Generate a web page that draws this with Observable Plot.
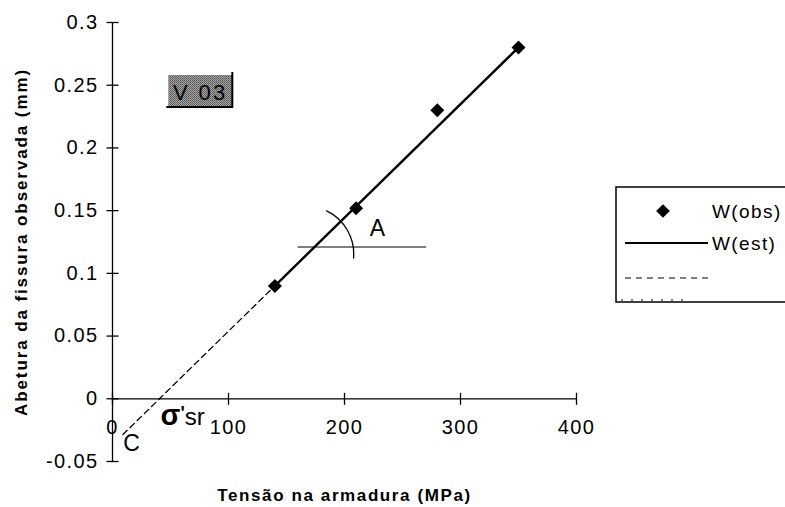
<!DOCTYPE html>
<html><head><meta charset="utf-8">
<script src="https://cdn.jsdelivr.net/npm/d3@7"></script>
<script src="https://cdn.jsdelivr.net/npm/@observablehq/plot@0.6"></script>
<style>
body{margin:0;background:#fff}
#chart svg{font-family:"Liberation Sans",Arial,sans-serif;letter-spacing:1.4px}
</style>
</head><body><div id="chart"></div>
<script>
// Observed crack width vs steel stress
const tensao = [140, 210, 280, 350];
const abertura = [0.09, 0.152, 0.23, 0.28];
// Estimated (fitted) line W(est)
const estX = [140, 350];
const estY = [0.0901, 0.2801];
// Dashed extrapolation towards C
const extX = [9, 140];
const extY = [-0.0285, 0.0901];
// Axis ticks
const xTicks = [0, 100, 200, 300, 400];
const yTicks = [-0.05, 0, 0.05, 0.1, 0.15, 0.2, 0.25, 0.3];
const yTickLabels = ["-0.05", "0", "0.05", "0.1", "0.15", "0.2", "0.25", "0.3"];
// Texts
const xTitle = "Tensão na armadura (MPa)";
const yTitle = "Abetura da fissura observada (mm)";
const legendLabels = ["W(obs)", "W(est)"];
const specimen = ["V 03"];
// Annotations (data units)
const labelA = [{t: "A", x: 229, y: 0.136}];
const labelC = [{t: "C", x: 17, y: -0.036}];
const sigmaParts = ["σ", "'", "sr"];
const labelSigma = [{t: sigmaParts.join(""), x: 60.5, y: -0.015}];
const angleLineX = [160, 270];
const angleLineY = [0.121, 0.121];
const angleCenter = [167, 0.115];
const specimenPos = [77, 0.245];

const obs = tensao.map((x, i) => ({x, y: abertura[i]}));
const est = estX.map((x, i) => ({x, y: estY[i]}));
const ext = extX.map((x, i) => ({x, y: extY[i]}));

const vTick = {draw(ctx) { ctx.moveTo(0, -6); ctx.lineTo(0, 6); }};
const hTick = {draw(ctx) { ctx.moveTo(-6, 0); ctx.lineTo(6, 0); }};

function decorations(index, scales) {
  const g = d3.create("svg:g").attr("text-anchor", "start");
  const X = scales.x, Y = scales.y;
  // angle arc
  const cx = X(angleCenter[0]), cy = Y(angleCenter[1]);
  const arc = d3.arc().innerRadius(48).outerRadius(48).startAngle(Math.PI * 0.14).endAngle(Math.PI * 0.53);
  g.append("path").attr("d", arc()).attr("transform", `translate(${cx},${cy})`)
    .attr("fill", "none").attr("stroke", "black").attr("stroke-width", 1.3);
  // specimen label box
  const bx = X(specimenPos[0]), by = Y(specimenPos[1]);
  const pat = g.append("defs").append("pattern").attr("id", "stip").attr("width", 2).attr("height", 2).attr("patternUnits", "userSpaceOnUse");
  pat.append("rect").attr("width", 2).attr("height", 2).attr("fill", "#a2a2a2");
  pat.append("rect").attr("width", 1).attr("height", 1).attr("fill", "#555");
  pat.append("rect").attr("x", 1).attr("y", 1).attr("width", 1).attr("height", 1).attr("fill", "#6a6a6a");
  g.append("rect").attr("x", bx - 33).attr("y", by - 16).attr("width", 64).attr("height", 32).attr("fill", "url(#stip)");
  g.append("path").attr("d", `M${bx - 35},${by + 16}H${bx + 31}V${by - 19}`)
    .attr("fill", "none").attr("stroke", "black").attr("stroke-width", 2);
  g.append("text").attr("x", bx - 1).attr("y", by + 1).attr("dy", "0.35em").attr("text-anchor", "middle")
    .attr("font-size", 22).style("letter-spacing", "2.4px").text(specimen[0]);
  // legend
  const L = g.append("g").attr("transform", "translate(616,187)");
  L.append("rect").attr("x", 0).attr("y", 0).attr("width", 200).attr("height", 115)
    .attr("fill", "white").attr("stroke", "black").attr("stroke-width", 1.5);
  L.append("path").attr("d", d3.symbol(d3.symbolDiamond2, 120)()).attr("transform", "translate(47,24)").attr("fill", "black");
  L.append("text").attr("x", 96).attr("y", 24).attr("dy", "0.35em").attr("font-size", 19).text(legendLabels[0]);
  L.append("line").attr("x1", 9).attr("x2", 92).attr("y1", 56).attr("y2", 56).attr("stroke", "black").attr("stroke-width", 2.2);
  L.append("text").attr("x", 96).attr("y", 56).attr("dy", "0.35em").attr("font-size", 19).text(legendLabels[1]);
  L.append("line").attr("x1", 9).attr("x2", 92).attr("y1", 91).attr("y2", 91).attr("stroke", "black").attr("stroke-width", 1).attr("stroke-dasharray", "6,5");
  L.append("line").attr("x1", 5).attr("x2", 70).attr("y1", 113).attr("y2", 113).attr("stroke", "black").attr("stroke-width", 1).attr("stroke-dasharray", "2,8");
  return g.node();
}

const chart = Plot.plot({
  width: 785,
  height: 507,
  marginLeft: 112,
  marginRight: 209,
  marginTop: 22,
  marginBottom: 46,
  x: {domain: [0, 400], axis: null},
  y: {domain: [-0.05, 0.3], axis: null},
  style: {background: "white", color: "black"},
  marks: [
    Plot.ruleY([0], {stroke: "black", strokeWidth: 1.3}),
    Plot.ruleX([0], {stroke: "black", strokeWidth: 1.3}),
    Plot.dot(xTicks, {x: d => d, y: 0, symbol: vTick, stroke: "black", strokeWidth: 1.3, r: 6}),
    Plot.dot(yTicks, {x: 0, y: d => d, symbol: hTick, stroke: "black", strokeWidth: 1.3, r: 6}),
    Plot.text(xTicks, {x: d => d, y: 0, dy: 29, text: d => String(d), fontSize: 20}),
    Plot.text(yTicks, {x: 0, y: d => d, dx: -14, text: (d, i) => yTickLabels[i], textAnchor: "end", fontSize: 20}),
    Plot.text([xTitle], {frameAnchor: "bottom", text: d => d, dy: 34, lineAnchor: "middle", textAnchor: "middle", fontWeight: "bold", fontSize: 17}),
    Plot.text([yTitle], {frameAnchor: "left", text: d => d, dx: -91, rotate: -90, lineAnchor: "middle", textAnchor: "middle", fontWeight: "bold", fontSize: 17}),
    Plot.line(ext, {x: "x", y: "y", stroke: "black", strokeWidth: 1.3, strokeDasharray: "6,4"}),
    Plot.line(est, {x: "x", y: "y", stroke: "black", strokeWidth: 2.4}),
    Plot.line(angleLineX.map((x, i) => ({x, y: angleLineY[i]})), {x: "x", y: "y", stroke: "black", strokeWidth: 1.2}),
    Plot.dot(obs, {x: "x", y: "y", symbol: "diamond2", fill: "black", r: 6.3}),
    Plot.text(labelA, {x: "x", y: "y", text: "t", fontSize: 23, fill: "black"}),
    Plot.text(labelC, {x: "x", y: "y", text: "t", fontSize: 23, fill: "black"}),
    Plot.text(labelSigma, {x: "x", y: "y", text: "t", fontSize: 24, fill: "black"}),
    decorations
  ]
});
const svgSel = d3.select(chart);
svgSel.selectAll("text").filter(function() { return this.textContent === xTitle; }).style("letter-spacing", "1.6px");
svgSel.selectAll("text").filter(function() { return this.textContent === yTitle; }).style("letter-spacing", "1.9px");
svgSel.selectAll("text").filter(function() { return this.textContent === labelSigma[0].t; }).each(function() {
  const t = d3.select(this).style("letter-spacing", "0px");
  t.text(null);
  t.append("tspan").attr("font-size", 29).attr("font-weight", "bold").text(sigmaParts[0]);
  t.append("tspan").attr("font-size", 18).attr("font-weight", "bold").attr("dy", -6).text(sigmaParts[1]);
  t.append("tspan").attr("font-size", 24).attr("dy", 6).text(sigmaParts[2]);
});
document.getElementById("chart").append(chart);
</script>
</body></html>
